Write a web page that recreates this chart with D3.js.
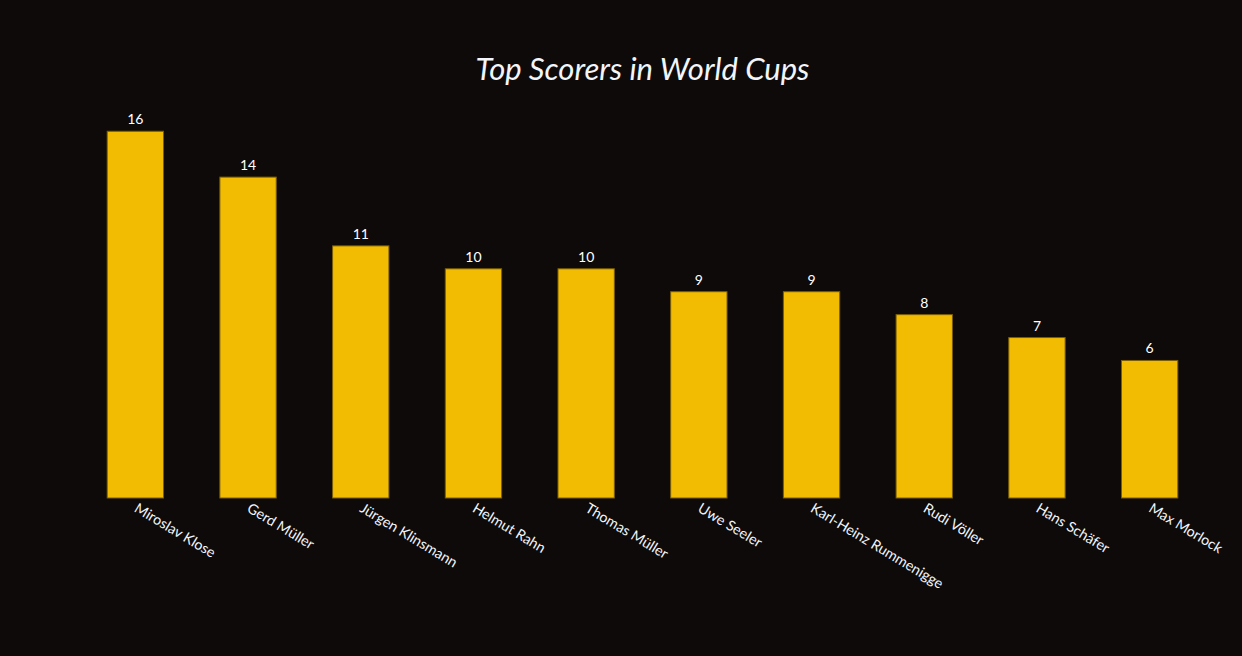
<!DOCTYPE html>
<html>
<head>
<meta charset="utf-8">
<script src="https://cdn.jsdelivr.net/npm/d3@7"></script>
<style>
  html, body { margin: 0; padding: 0; background: #0d0a09; }
</style>
</head>
<body>
<div id="chart"></div>
<script>
// Data
const players = ["Miroslav Klose", "Gerd Müller", "Jürgen Klinsmann", "Helmut Rahn", "Thomas Müller",
                 "Uwe Seeler", "Karl-Heinz Rummenigge", "Rudi Völler", "Hans Schäfer", "Max Morlock"];
const goals = [16, 14, 11, 10, 10, 9, 9, 8, 7, 6];
const titleText = "Top Scorers in World Cups";

const width = 1242;
const height = 656;
const margin = { top: 112, right: 36, bottom: 158, left: 79 };
const font = "Lato, 'Open Sans', sans-serif";

const svg = d3.select("#chart")
    .append("svg")
    .attr("width", width)
    .attr("height", height)
    .style("background", "#0d0a09");

const x = d3.scaleBand()
    .domain(players)
    .range([margin.left, width - margin.right])
    .paddingInner(0.5)
    .paddingOuter(0.25);

const y = d3.scaleLinear()
    .domain([0, 16.84])
    .range([height - margin.bottom, margin.top]);

// bars
svg.append("g")
    .selectAll("rect")
    .data(players)
    .join("rect")
    .attr("x", d => x(d))
    .attr("y", (d, i) => y(goals[i]))
    .attr("width", x.bandwidth())
    .attr("height", (d, i) => y(0) - y(goals[i]))
    .attr("fill", "#f2bc02")
    .attr("stroke", "#7a5d04")
    .attr("stroke-width", 1);

// value labels above bars
svg.append("g")
    .selectAll("text")
    .data(players)
    .join("text")
    .attr("x", d => x(d) + x.bandwidth() / 2)
    .attr("y", (d, i) => y(goals[i]) - 7)
    .attr("text-anchor", "middle")
    .attr("fill", "#ffffff")
    .attr("font-family", font)
    .attr("font-size", "14px")
    .text((d, i) => goals[i]);

// x axis, no line and no ticks, rotated labels
const xAxis = svg.append("g")
    .attr("transform", `translate(0,${y(0)})`)
    .call(d3.axisBottom(x).tickSize(0).tickPadding(0));
xAxis.select(".domain").remove();
xAxis.selectAll("text")
    .attr("fill", "#f2f5fa")
    .attr("font-family", font)
    .attr("font-size", "14.3px")
    .attr("text-anchor", "start")
    .attr("dy", null)
    .attr("y", 0)
    .attr("transform", "translate(-2,13) rotate(31)");

// title
svg.append("text")
    .attr("x", (margin.left + width - margin.right) / 2)
    .attr("y", 80)
    .attr("text-anchor", "middle")
    .attr("fill", "#f2f5fa")
    .attr("font-family", font)
    .attr("font-style", "italic")
    .attr("font-size", "31px")
    .text(titleText);
</script>
</body>
</html>
